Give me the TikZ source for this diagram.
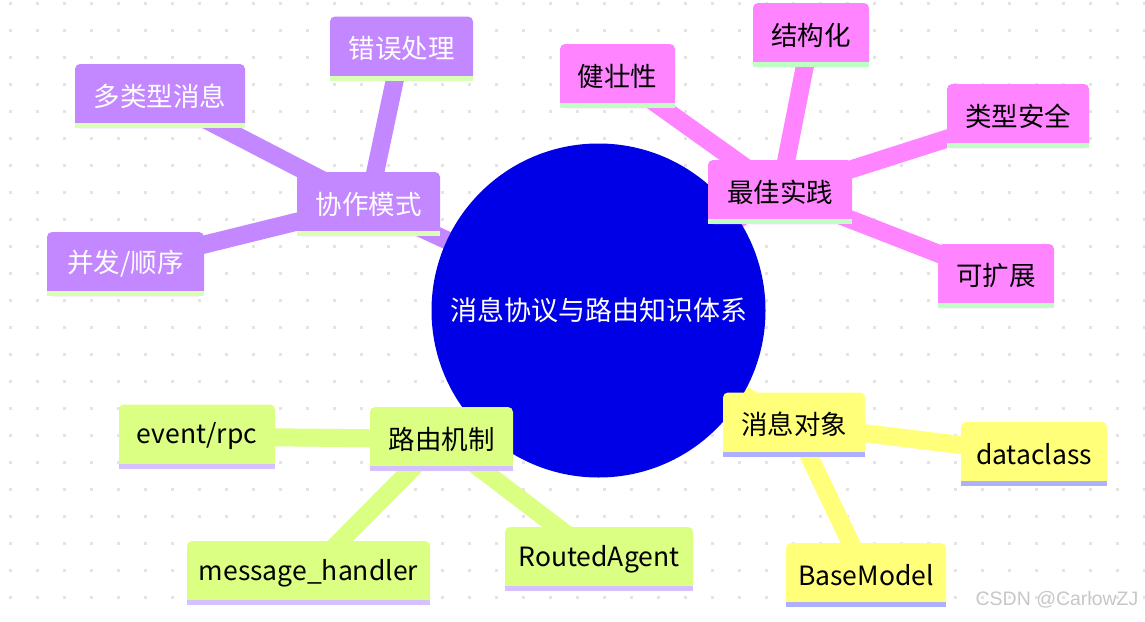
\documentclass[tikz,border=0pt]{standalone}
\usepackage{fontspec}
\setmainfont{Noto Sans CJK SC}
\newfontfamily\marksans{Liberation Sans}
\usetikzlibrary{backgrounds}

\definecolor{rootC}{HTML}{0000E6}
\definecolor{purpleC}{HTML}{C387FF}
\definecolor{pinkC}{HTML}{FF84FF}
\definecolor{yellowC}{HTML}{FFFF7A}
\definecolor{limeC}{HTML}{DBFF82}
\definecolor{purpleBar}{HTML}{D9FFB5}
\definecolor{pinkBar}{HTML}{BFFFC4}
\definecolor{yellowBar}{HTML}{AFAFFF}
\definecolor{limeBar}{HTML}{D5C1FF}
\definecolor{dotC}{HTML}{E4E4E4}

\pgfdeclarelayer{edges}
\pgfsetlayers{background,edges,main}

\begin{document}
\begin{tikzpicture}[x=1pt,y=-1pt]
\tikzset{mm/.style={rounded corners=5pt, minimum height=64pt, inner sep=0pt,
                    font=\fontsize{26.5}{30}\selectfont},
         coop/.style={mm, fill=purpleC, text=white},
         best/.style={mm, fill=pinkC},
         msgobj/.style={mm, fill=yellowC},
         route/.style={mm, fill=limeC},
         link/.style={line width=18pt}}
\useasboundingbox (0,0) rectangle (1145,621);

% dotted grid
\begin{pgfonlayer}{background}
\fill[white] (0,0) rectangle (1145,621);
\foreach \i in {0,...,42}
  \foreach \j in {0,...,22}
    \fill[dotC] (10.5+27*\i-1.3,3.3+27*\j-1.3) rectangle +(2.6,2.6);
\end{pgfonlayer}

\node[circle, fill=rootC, text=white, minimum size=334pt, inner sep=0pt,
      font=\fontsize{27}{30}\selectfont] (root) at (598.5,310.5) {消息协议与路由知识体系};

% 协作模式
\node[coop, minimum width=143pt] (collab) at (368.5,204) {协作模式};
\node[coop, minimum width=143pt] (errors) at (401.5,48.5) {错误处理};
\node[coop, minimum width=170pt] (multi) at (160,96) {多类型消息};
\node[coop, minimum width=157pt] (conc) at (125.5,264) {并发/顺序};

% 最佳实践
\node[best, minimum width=144pt] (practice) at (780,192) {最佳实践};
\node[best, minimum width=115pt] (robust) at (617.5,76) {健壮性};
\node[best, minimum width=116pt] (struct) at (811,35) {结构化};
\node[best, minimum width=142pt] (typesafe) at (1018,116) {类型安全};
\node[best, minimum width=116pt] (extend) at (996,276) {可扩展};

% 路由机制
\node[route, minimum width=143pt] (routing) at (441.5,439) {路由机制};
\node[route, minimum width=156pt] (evrpc) at (197,436.5) {event/rpc};
\node[route, minimum width=243pt] (handler) at (308.5,573) {message\_handler};
\node[route, minimum width=188pt] (ragent) at (599,559) {RoutedAgent};

% 消息对象
\node[msgobj, minimum width=142pt] (message) at (794,424.5) {消息对象};
\node[msgobj, minimum width=146pt] (dclass) at (1034,454) {dataclass};
\node[msgobj, minimum width=160pt] (bmodel) at (866,575) {BaseModel};

\foreach \n/\c in {collab/purpleBar, errors/purpleBar, multi/purpleBar, conc/purpleBar,
                   practice/pinkBar, robust/pinkBar, struct/pinkBar, typesafe/pinkBar, extend/pinkBar,
                   routing/limeBar, evrpc/limeBar, handler/limeBar, ragent/limeBar,
                   message/yellowBar, dclass/yellowBar, bmodel/yellowBar}
  \fill[\c] (\n.south west) rectangle ([yshift=5pt]\n.south east);

\begin{pgfonlayer}{edges}
\draw[link, purpleC] (root.center) -- (collab.center);
\draw[link, purpleC] (collab.center) -- (errors.center);
\draw[link, purpleC] (collab.center) -- (multi.center);
\draw[link, purpleC] (collab.center) -- (conc.center);
\draw[link, pinkC] (root.center) -- (practice.center);
\draw[link, pinkC] (practice.center) -- (robust.center);
\draw[link, pinkC] (practice.center) -- (struct.center);
\draw[link, pinkC] (practice.center) -- (typesafe.center);
\draw[link, pinkC] (practice.center) -- (extend.center);
\draw[link, limeC] (root.center) -- (routing.center);
\draw[link, limeC] (routing.center) -- (evrpc.center);
\draw[link, limeC] (routing.center) -- (handler.center);
\draw[link, limeC] (routing.center) -- (ragent.center);
\draw[link, yellowC] (root.center) -- (message.center);
\draw[link, yellowC] (message.center) -- (dclass.center);
\draw[link, yellowC] (message.center) -- (bmodel.center);
\end{pgfonlayer}

\node[text=black!22, font=\marksans\fontsize{19.5}{24}\selectfont] (mark) at (1057,600) {CSDN @CarlowZJ};
\end{tikzpicture}
\end{document}
